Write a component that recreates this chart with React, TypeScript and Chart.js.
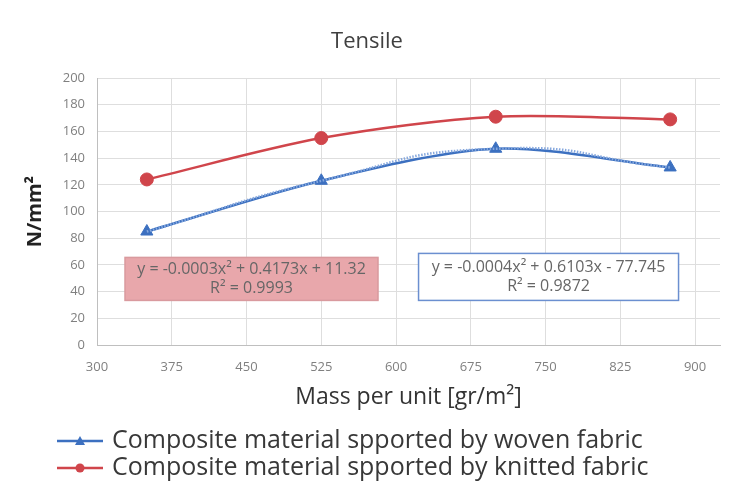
import React, { useEffect, useRef } from "react";
import { Chart, registerables } from "chart.js";

Chart.register(...registerables);

const massPerUnit = [350, 525, 700, 875];
const wovenValues = [85, 123, 147, 133];
const knittedValues = [124, 155, 171, 169];
const yTicks = [0, 20, 40, 60, 80, 100, 120, 140, 160, 180, 200];
const xTicks = [300, 375, 450, 525, 600, 675, 750, 825, 900];

const seriesNames = [
  "Composite material spported by woven fabric",
  "Composite material spported by knitted fabric",
];
const wovenEquation = ["y = -0.0004x² + 0.6103x - 77.745", "R² = 0.9872"];
const knittedEquation = ["y = -0.0003x² + 0.4173x + 11.32", "R² = 0.9993"];
// label anchors in data units (x, y)
const knittedLabelAnchor = [455, 49.5];
const wovenLabelAnchor = [753, 51];

const FONT = "'Open Sans', 'DejaVu Sans', sans-serif";
const BLUE = "#3c70c0";
const RED = "#d0454b";

const labelsPlugin = {
  id: "eqLabels",
  afterDraw(chart: any) {
    const { ctx, scales } = chart;
    const x = scales.x;
    const y = scales.y;
    const drawBox = (anchor: number[], lines: string[], fill: string, stroke: string, w: number, h: number) => {
      const cx = x.getPixelForValue(anchor[0]);
      const cy = y.getPixelForValue(anchor[1]);
      ctx.save();
      ctx.fillStyle = fill;
      ctx.strokeStyle = stroke;
      ctx.lineWidth = 1.5;
      ctx.fillRect(cx - w / 2, cy - h / 2, w, h);
      ctx.strokeRect(cx - w / 2, cy - h / 2, w, h);
      ctx.fillStyle = "#666666";
      ctx.font = `16px ${FONT}`;
      ctx.textAlign = "center";
      ctx.textBaseline = "middle";
      ctx.fillText(lines[0], cx, cy - 9);
      ctx.fillText(lines[1], cx, cy + 10);
      ctx.restore();
    };
    drawBox(knittedLabelAnchor, knittedEquation, "#e8a7ab", "#d99a9e", 253, 43);
    drawBox(wovenLabelAnchor, wovenEquation, "#ffffff", "#6b8fd0", 260, 47);

    // legend
    const rows = [
      { name: seriesNames[0], color: BLUE, style: "triangle" },
      { name: seriesNames[1], color: RED, style: "circle" },
    ];
    ctx.save();
    rows.forEach((r, i) => {
      const yy = 441 + i * 27;
      ctx.strokeStyle = r.color;
      ctx.lineWidth = 2.5;
      ctx.beginPath();
      ctx.moveTo(57, yy);
      ctx.lineTo(103, yy);
      ctx.stroke();
      ctx.fillStyle = r.color;
      ctx.beginPath();
      if (r.style === "circle") {
        ctx.arc(80, yy, 4.5, 0, Math.PI * 2);
      } else {
        ctx.moveTo(80, yy - 5);
        ctx.lineTo(85, yy + 4);
        ctx.lineTo(75, yy + 4);
        ctx.closePath();
      }
      ctx.fill();
      ctx.fillStyle = "#383838";
      ctx.font = `25px ${FONT}`;
      ctx.textAlign = "left";
      ctx.textBaseline = "middle";
      ctx.fillText(r.name, 112, yy);
    });
    ctx.restore();
  },
};

export default function App() {
  const ref = useRef<HTMLCanvasElement | null>(null);
  useEffect(() => {
    if (!ref.current) return;
    const toXY = (vals: number[]) => massPerUnit.map((m, i) => ({ x: m, y: vals[i] }));
    const chart = new Chart(ref.current, {
      type: "line",
      data: {
        datasets: [
          {
            label: "woven trend",
            data: toXY(wovenValues),
            borderColor: "#86a8de",
            borderWidth: 2.5,
            borderDash: [1.5, 1.5],
            tension: 0.55,
            pointRadius: 0,
            fill: false,
          },
          {
            label: seriesNames[0],
            data: toXY(wovenValues),
            borderColor: BLUE,
            backgroundColor: BLUE,
            borderWidth: 2.5,
            tension: 0.3,
            pointStyle: "triangle",
            pointRadius: 7,
            pointBorderWidth: 1,
            fill: false,
          },
          {
            label: seriesNames[1],
            data: toXY(knittedValues),
            borderColor: RED,
            backgroundColor: RED,
            borderWidth: 2.5,
            tension: 0.3,
            pointStyle: "circle",
            pointRadius: 6.5,
            pointBorderWidth: 1,
            fill: false,
          },
        ],
      },
      options: {
        animation: false,
        responsive: false,
        layout: { padding: { left: 14, right: 28, top: 0, bottom: 87 } },
        plugins: {
          legend: { display: false },
          tooltip: { enabled: false },
          title: {
            display: true,
            text: "Tensile",
            color: "#404040",
            font: { family: FONT, size: 22, weight: "normal" },
            padding: { top: 29, bottom: 22.6 },
          },
        },
        scales: {
          x: {
            type: "linear",
            min: 300,
            max: 925,
            afterBuildTicks: (s: any) => {
              s.ticks = xTicks.map((v) => ({ value: v }));
            },
            afterFit: (s: any) => {
              s.height = 66;
            },
            ticks: {
              color: "#808080",
              font: { family: FONT, size: 13 },
              padding: 14,
              maxRotation: 0,
              autoSkip: false,
            },
            grid: { color: "#dedede", drawTicks: false },
            border: { color: "#bfbfbf" },
            title: {
              display: true,
              text: "Mass per unit [gr/m²]",
              color: "#333333",
              font: { family: FONT, size: 23 },
              padding: { top: 0, bottom: 0 },
            },
          },
          y: {
            type: "linear",
            min: yTicks[0],
            max: yTicks[yTicks.length - 1],
            afterBuildTicks: (s: any) => {
              s.ticks = yTicks.map((v) => ({ value: v }));
            },
            afterFit: (s: any) => {
              s.width = 83;
            },
            ticks: {
              color: "#808080",
              font: { family: FONT, size: 13 },
              padding: 12,
            },
            grid: { color: "#dedede", drawTicks: false },
            border: { color: "#bfbfbf" },
            title: {
              display: true,
              text: "N/mm²",
              color: "#222222",
              font: { family: FONT, size: 20, weight: "bold" },
              padding: { top: 9, bottom: 0 },
            },
          },
        },
      },
      plugins: [labelsPlugin],
    });
    return () => chart.destroy();
  }, []);
  return (
    <div style={{ position: "fixed", left: 0, top: 0, width: 748, height: 498, background: "#fff" }}>
      <canvas ref={ref} width={748} height={498} />
    </div>
  );
}
